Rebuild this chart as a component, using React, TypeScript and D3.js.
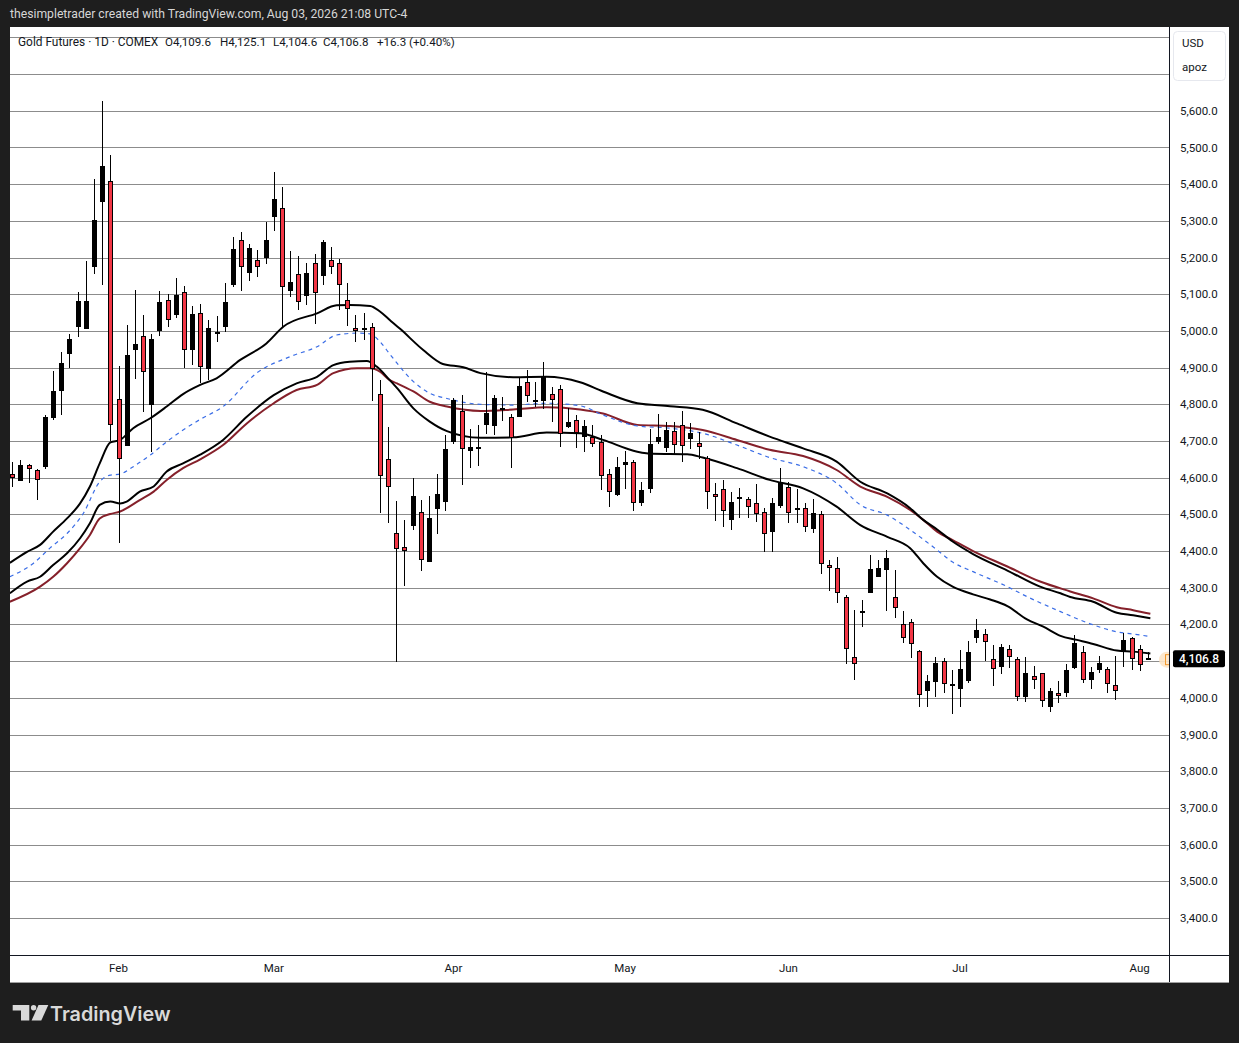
import * as d3 from 'd3'
import React from 'react'

// daily OHLC, Gold Futures (COMEX), Jan 13 .. Aug 4 2026 (140 sessions)
const opens = [
    4610, 4592, 4634, 4620, 4630, 4762, 4835, 4938, 5012, 5004, 5175, 5352, 5409, 4814, 4687, 4949, 4985, 4797, 5001, 5083,
    5043, 5105, 4947, 5048, 4895, 4997, 5012, 5125, 5247, 5157, 5193, 5200, 5310, 5334, 5108, 5154, 5096, 5184, 5151, 5193,
    5184, 5083, 5007, 5007, 5010, 4827, 4652, 4448, 4412, 4469, 4506, 4369, 4516, 4535, 4697, 4782, 4672, 4677, 4745, 4742,
    4785, 4765, 4766, 4860, 4812, 4810, 4828, 4841, 4737, 4756, 4712, 4710, 4696, 4609, 4553, 4634, 4642, 4532, 4568, 4697,
    4680, 4726, 4743, 4705, 4694, 4653, 4555, 4568, 4485, 4541, 4542, 4530, 4506, 4453, 4524, 4574, 4513, 4517, 4459, 4500,
    4361, 4353, 4274, 4111, 4232, 4287, 4329, 4349, 4274, 4201, 4208, 4128, 4019, 4042, 4101, 4037, 4023, 4047, 4164, 4174,
    4105, 4085, 4132, 4105, 4003, 4059, 4067, 3976, 4012, 4012, 4082, 4124, 4050, 4076, 4080, 4035, 4124, 4162, 4132, 4109.6,
]
const highs = [
    4644, 4648, 4637, 4624, 4771, 4891, 4943, 4991, 5106, 5190, 5414, 5627, 5480, 4904, 5015, 5112, 5043, 4993, 5109, 5102,
    5143, 5122, 5068, 5073, 5030, 5041, 5130, 5255, 5270, 5237, 5221, 5297, 5433, 5391, 5218, 5203, 5184, 5209, 5248, 5228,
    5195, 5130, 5044, 5048, 5021, 4866, 4739, 4537, 4485, 4598, 4539, 4550, 4610, 4716, 4818, 4826, 4733, 4744, 4887, 4826,
    4819, 4774, 4871, 4894, 4860, 4915, 4848, 4853, 4789, 4771, 4757, 4744, 4716, 4624, 4657, 4674, 4648, 4589, 4732, 4774,
    4753, 4753, 4782, 4750, 4724, 4659, 4586, 4594, 4562, 4571, 4547, 4582, 4518, 4544, 4626, 4589, 4569, 4530, 4541, 4508,
    4376, 4385, 4280, 4240, 4267, 4389, 4376, 4403, 4349, 4236, 4214, 4130, 4062, 4112, 4108, 4076, 4130, 4156, 4214, 4189,
    4144, 4147, 4144, 4110, 4110, 4087, 4069, 4028, 4046, 4092, 4171, 4141, 4083, 4115, 4085, 4114, 4178, 4167, 4144, 4125.1,
]
const lows = [
    4575, 4592, 4585, 4539, 4623, 4757, 4772, 4899, 4984, 5004, 5156, 5125, 4701, 4423, 4687, 4868, 4780, 4671, 4987, 5012,
    5036, 4900, 4907, 4857, 4866, 4971, 4998, 5121, 5110, 5137, 5146, 5183, 5273, 5012, 5093, 5058, 5071, 5019, 5125, 5155,
    5057, 5014, 4971, 4975, 4810, 4505, 4477, 4099, 4306, 4458, 4347, 4369, 4446, 4510, 4691, 4581, 4626, 4633, 4720, 4717,
    4754, 4626, 4766, 4807, 4792, 4786, 4753, 4685, 4735, 4680, 4671, 4683, 4566, 4521, 4550, 4569, 4510, 4523, 4557, 4692,
    4669, 4662, 4644, 4677, 4651, 4514, 4483, 4467, 4457, 4489, 4489, 4480, 4397, 4397, 4518, 4476, 4476, 4453, 4450, 4337,
    4292, 4259, 4091, 4049, 4192, 4285, 4329, 4238, 4219, 4150, 4108, 3976, 3976, 4001, 4012, 3956, 3974, 4041, 4149, 4101,
    4033, 4064, 4082, 3992, 3990, 4023, 3974, 3962, 3987, 4003, 4078, 4041, 4023, 4067, 4012, 3994, 4085, 4076, 4074, 4104.6,
]
const closes = [
    4598, 4634, 4623, 4593, 4765, 4835, 4912, 4977, 5082, 5082, 5302, 5450, 4743, 4650, 4934, 4964, 4887, 4978, 5079, 5029,
    5097, 4947, 5045, 4903, 5007, 4991, 5078, 5222, 5173, 5225, 5173, 5248, 5359, 5121, 5133, 5078, 5157, 5103, 5242, 5175,
    5124, 5059, 4999, 5009, 4895, 4605, 4574, 4405, 4400, 4550, 4375, 4489, 4556, 4678, 4812, 4677, 4683, 4684, 4776, 4816,
    4790, 4707, 4850, 4822, 4806, 4875, 4811, 4718, 4753, 4721, 4741, 4692, 4606, 4560, 4628, 4643, 4530, 4567, 4692, 4710,
    4730, 4688, 4686, 4721, 4683, 4560, 4547, 4509, 4533, 4547, 4521, 4501, 4447, 4530, 4589, 4503, 4517, 4465, 4503, 4364,
    4353, 4285, 4132, 4091, 4236, 4350, 4353, 4380, 4244, 4162, 4147, 4008, 4046, 4094, 4038, 4032, 4080, 4124, 4185, 4153,
    4080, 4138, 4110, 4003, 4067, 4050, 3991, 4019, 4005, 4076, 4149, 4049, 4070, 4096, 4038, 4019, 4159, 4105, 4090.5, 4106.8,
]

// indicator lines: [session index, price]
const upperBand: [number, number][] = [
    [-0.3, 4368], [1.8, 4398], [3.4, 4417], [5.0, 4453], [6.7, 4489], [8.3, 4530], [9.5, 4576], [10.7, 4639],
    [12.0, 4696], [13.2, 4703], [14.8, 4735], [16.9, 4762], [18.9, 4794], [20.9, 4828], [23.0, 4853], [25.0, 4871],
    [27.9, 4921], [31.1, 4966], [33.2, 5012], [37.3, 5048], [39.7, 5070], [41.3, 5071], [43.8, 5068], [45.0, 5053],
    [46.2, 5030], [47.5, 5005], [50.3, 4948], [52.7, 4910], [55.2, 4901], [57.3, 4885], [61.3, 4874], [65.4, 4875],
    [69.5, 4860], [72.3, 4835], [76.5, 4803], [80.5, 4795], [84.5, 4785], [88.7, 4748], [92.7, 4712], [96.8, 4680],
    [100.9, 4644], [103.8, 4589], [107.1, 4557], [109.9, 4517], [111.5, 4485], [113.2, 4459], [115.1, 4426], [117.6, 4392],
    [121.8, 4347], [125.8, 4303], [128.3, 4285], [129.5, 4275], [132.3, 4262], [135.2, 4232], [137.2, 4225], [139.3, 4217],
]
const basis: [number, number][] = [
    [-0.3, 4330], [2.6, 4367], [4.6, 4408], [6.7, 4448], [8.7, 4503], [10.7, 4589], [12.0, 4607], [13.2, 4610],
    [14.8, 4630], [16.9, 4662], [18.9, 4698], [20.9, 4730], [23.0, 4759], [25.8, 4794], [29.9, 4885], [34.0, 4930],
    [37.3, 4957], [39.7, 4989], [42.2, 4994], [43.8, 4992], [45.0, 4971], [46.2, 4937], [49.1, 4862], [51.1, 4830],
    [53.2, 4816], [57.3, 4800], [61.3, 4798], [65.4, 4803], [69.5, 4796], [72.3, 4771], [76.5, 4741], [80.5, 4735],
    [84.5, 4721], [88.7, 4689], [92.7, 4655], [96.8, 4630], [100.9, 4585], [103.8, 4526], [107.1, 4498], [109.9, 4458],
    [113.2, 4403], [115.1, 4370], [117.6, 4344], [121.8, 4303], [124.2, 4276], [128.3, 4235], [132.3, 4199], [135.2, 4180],
    [137.2, 4174], [139.3, 4167],
]
const lowerBand: [number, number][] = [
    [-0.3, 4285], [1.8, 4317], [3.4, 4330], [5.0, 4362], [6.7, 4394], [8.3, 4435], [9.5, 4476], [10.7, 4526],
    [12.0, 4535], [13.2, 4530], [14.0, 4535], [15.6, 4562], [17.3, 4576], [18.9, 4617], [20.9, 4639], [23.0, 4663],
    [25.8, 4703], [28.7, 4766], [32.0, 4825], [34.8, 4857], [37.3, 4875], [39.3, 4907], [41.3, 4916], [43.4, 4918],
    [44.6, 4903], [46.2, 4866], [47.1, 4844], [49.1, 4789], [51.1, 4753], [53.2, 4727], [57.3, 4709], [61.3, 4710],
    [65.4, 4723], [69.5, 4721], [72.3, 4703], [76.5, 4671], [78.4, 4665], [82.6, 4664], [84.5, 4655], [88.7, 4626],
    [92.7, 4594], [96.8, 4571], [100.9, 4521], [103.8, 4471], [107.1, 4439], [109.9, 4408], [111.5, 4367], [113.2, 4330],
    [115.1, 4303], [117.6, 4282], [119.7, 4268], [121.8, 4250], [124.2, 4214], [126.2, 4194], [128.3, 4169], [130.3, 4158],
    [132.3, 4147], [135.2, 4129], [137.2, 4126], [139.3, 4121],
]
const redMA: [number, number][] = [
    [-0.3, 4262], [3.4, 4303], [5.0, 4330], [6.7, 4367], [8.3, 4408], [9.5, 4444], [10.7, 4489], [12.0, 4501],
    [13.2, 4508], [15.6, 4539], [17.3, 4562], [18.9, 4594], [20.9, 4626], [23.0, 4650], [25.8, 4689], [28.7, 4748],
    [32.0, 4803], [34.8, 4839], [37.3, 4853], [39.3, 4885], [42.2, 4898], [43.8, 4898], [45.0, 4889], [46.2, 4866],
    [47.1, 4857], [49.1, 4835], [51.1, 4807], [53.2, 4794], [57.3, 4782], [61.3, 4786], [65.4, 4792], [69.5, 4786],
    [72.3, 4775], [76.5, 4744], [80.5, 4741], [84.5, 4730], [88.7, 4703], [92.7, 4676], [96.8, 4659], [100.9, 4621],
    [103.8, 4576], [107.1, 4548], [109.9, 4512], [111.5, 4485], [113.2, 4453], [115.1, 4430], [117.6, 4400], [121.8, 4358],
    [125.8, 4317], [129.5, 4290], [132.3, 4271], [135.2, 4247], [137.2, 4239], [139.3, 4229],
]

// time axis: first session of each month
const monthLabels = ['Feb', 'Mar', 'Apr', 'May', 'Jun', 'Jul', 'Aug']
const monthIndex = [13, 32, 54, 75, 95, 116, 138]

const headerText = 'thesimpletrader created with TradingView.com, Aug 03, 2026 21:08 UTC-4'
const legendParts = ['Gold Futures · 1D · COMEX', 'O4,109.6', 'H4,125.1', 'L4,104.6', 'C4,106.8', '+16.3 (+0.40%)']
const legendX = [18, 165, 220, 273, 323, 377]
const lastPrice = 4106.8

const W = 1239
const H = 1043
const pane = { left: 10, top: 27, right: 1169, bottom: 955 }
const axisRight = 1229
const timeAxisBottom = 982
const font = 'Roboto, "Noto Sans", sans-serif'

const upColor = '#000000'
const downColor = '#f23645'

export default function App() {
    const x = d3.scaleLinear().domain([0, 139]).range([12.3, 1147.9])
    const y = d3.scaleLinear().domain([3400, 5600]).range([918, 110.8])

    const line = d3
        .line<[number, number]>()
        .x((d) => x(d[0]))
        .y((d) => y(d[1]))
        .curve(d3.curveMonotoneX)

    const gridValues = d3.range(3300, 5801, 100)
    const labelValues = d3.range(3400, 5601, 100)
    const lastY = y(lastPrice)

    return (
        <svg
            width={W}
            height={H}
            viewBox={`0 0 ${W} ${H}`}
            style={{ position: 'absolute', left: 0, top: 0, display: 'block' }}
            fontFamily={font}
        >
            <defs>
                <clipPath id="pane">
                    <rect x={pane.left} y={pane.top} width={pane.right - pane.left} height={pane.bottom - pane.top} />
                </clipPath>
            </defs>
            <rect x={0} y={0} width={W} height={H} fill="#1e1e1e" />
            <text x={10} y={14} dy="0.35em" fontSize={12.2} fill="#d6d6d6">
                {headerText}
            </text>

            {/* chart panel */}
            <rect x={pane.left} y={pane.top} width={axisRight - pane.left} height={timeAxisBottom - pane.top} fill="#ffffff" />

            <g clipPath="url(#pane)">
                {gridValues.map((v) => (
                    <line
                        key={v}
                        x1={pane.left}
                        x2={pane.right}
                        y1={Math.round(y(v)) + 0.5}
                        y2={Math.round(y(v)) + 0.5}
                        stroke="#8c8c8c"
                        strokeWidth={1}
                    />
                ))}

                <path d={line(redMA) || ''} fill="none" stroke="#85202a" strokeWidth={2} />
                <path d={line(basis) || ''} fill="none" stroke="#3a6de6" strokeWidth={1.2} strokeDasharray="4 4" />
                <path d={line(upperBand) || ''} fill="none" stroke="#000" strokeWidth={2} />
                <path d={line(lowerBand) || ''} fill="none" stroke="#000" strokeWidth={2} />

                {closes.map((c, i) => {
                    const o = opens[i]
                    const cx = Math.round(x(i))
                    const top = Math.round(y(Math.max(o, c)))
                    let bot = Math.round(y(Math.min(o, c)))
                    if (bot - top < 2) bot = top + 2
                    return (
                        <g key={i}>
                            <line
                                x1={cx + 0.5}
                                x2={cx + 0.5}
                                y1={Math.round(y(highs[i]))}
                                y2={Math.round(y(lows[i]))}
                                stroke="#000"
                                strokeWidth={1}
                            />
                            <rect
                                x={cx - 1.5}
                                y={top + 0.5}
                                width={4}
                                height={bot - top - 1}
                                fill={c >= o ? upColor : downColor}
                                stroke="#000"
                                strokeWidth={1}
                            />
                        </g>
                    )
                })}

                {/* last price marker */}
                <circle cx={1167} cy={lastY + 1} r={8} fill="#fde6c8" opacity={0.9} />
                <rect x={1165.5} y={lastY - 4} width={4} height={10} fill="none" stroke="#f39a2e" strokeWidth={1} />
            </g>

            {legendParts.map((p, i) => (
                <text key={i} x={legendX[i]} y={42} dy="0.35em" fontSize={i === 0 ? 11.9 : 11.6} fill="#131722">
                    {p}
                </text>
            ))}

            {/* frame lines */}
            <line x1={pane.right + 0.5} x2={pane.right + 0.5} y1={pane.top} y2={timeAxisBottom} stroke="#131722" />
            <line x1={pane.left} x2={axisRight} y1={pane.bottom + 0.5} y2={pane.bottom + 0.5} stroke="#131722" />
            <line x1={pane.left} x2={axisRight} y1={timeAxisBottom + 0.5} y2={timeAxisBottom + 0.5} stroke="#a0a0a0" />

            {/* price axis */}
            {labelValues
                .filter((v) => Math.abs(y(v) - lastY) > 14)
                .map((v) => (
                    <text key={v} x={1180} y={y(v)} dy="0.35em" fontSize={11.5} fill="#131722">
                        {d3.format(',.1f')(v)}
                    </text>
                ))}
            <rect x={1173.5} y={31.5} width={52} height={49} rx={4} fill="#fff" stroke="#e6e8ee" />
            <text x={1182} y={43} dy="0.35em" fontSize={11.5} fill="#131722">
                USD
            </text>
            <text x={1182} y={67} dy="0.35em" fontSize={11.5} fill="#131722">
                apoz
            </text>
            <rect x={1173} y={lastY - 8.5} width={52} height={17} rx={2} fill="#000" />
            <text x={1199} y={lastY} dy="0.35em" fontSize={12} fontWeight={500} fill="#fff" textAnchor="middle">
                {d3.format(',.1f')(lastPrice)}
            </text>

            {/* time axis */}
            {monthLabels.map((m, i) => (
                <text key={m} x={x(monthIndex[i])} y={968} dy="0.35em" fontSize={11.5} fill="#131722" textAnchor="middle">
                    {m}
                </text>
            ))}

            {/* TradingView logo */}
            <g fill="#d9d9d9">
                <path d="M12.7 1005 H29.3 V1020.5 H21 V1010.5 H12.7 Z" />
                <circle cx={33.6} cy={1007.7} r={2.7} />
                <path d="M38.5 1005 H48.3 L41.3 1020.5 H31.6 Z" />
                <text x={50} y={1021} fontSize={19.8} fontWeight={600} fontFamily="Inter, Roboto, sans-serif">
                    TradingView
                </text>
            </g>
        </svg>
    )
}
